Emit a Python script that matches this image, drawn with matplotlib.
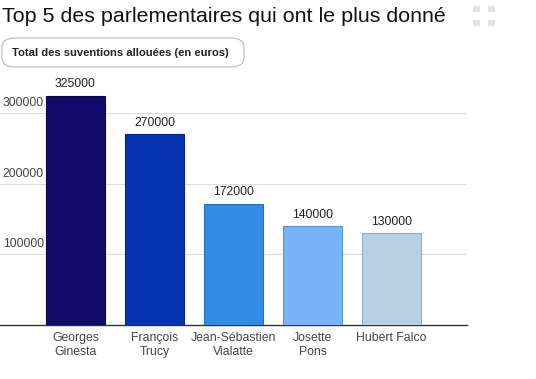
import matplotlib.pyplot as plt
from matplotlib.patches import FancyBboxPatch, Rectangle

# Données
noms = ["Georges\nGinesta", "François\nTrucy", "Jean-Sébastien\nVialatte", "Josette\nPons", "Hubert Falco"]
montants = [325000, 270000, 172000, 140000, 130000]
couleurs = ["#130b6c", "#0634b2", "#318ce6", "#78b3f8", "#bad0e0"]
bords = ["#0c0750", "#04278a", "#2470bb", "#5a93d0", "#93aebf"]
graduations = [100000, 200000, 300000]

plt.rcParams["font.family"] = ["Liberation Sans", "DejaVu Sans"]

W, H = 536, 379
fig = plt.figure(figsize=(W / 100, H / 100), dpi=100)
fig.patch.set_facecolor("white")

ax = fig.add_axes([0 / W, (H - 325) / H, 467 / W, (325 - 78) / H])
x = range(len(noms))
ax.bar(x, montants, width=0.75, color=couleurs, edgecolor=bords, linewidth=0.8, zorder=3)
ax.set_xlim(-0.956, 4.956)
ax.set_ylim(0, 350000)

# Grille et graduations
for g in graduations:
    ax.axhline(g, color="#dcdcdc", linewidth=0.8, zorder=1)
    ax.annotate(f"{g}", xy=(0, g), xycoords=("axes fraction", "data"),
                xytext=(2, 3), textcoords="offset points",
                ha="left", va="bottom", fontsize=8.8, color="#444444")
ax.set_yticks([])
ax.set_xticks(list(x))
ax.set_xticklabels(noms, fontsize=8.8, color="#444444", linespacing=1.2)
ax.tick_params(axis="x", length=0, pad=5)
for s in ["top", "right", "left"]:
    ax.spines[s].set_visible(False)
ax.spines["bottom"].set_color("#333333")
ax.spines["bottom"].set_linewidth(1)

# Valeurs au-dessus des barres
for xi, v in zip(x, montants):
    ax.annotate(f"{v}", xy=(xi, v), xytext=(0, 4), textcoords="offset points",
                ha="center", va="bottom", fontsize=8.8, color="#222222")

# Titre
fig.text(2 / W, 1 - 16 / H, "Top 5 des parlementaires qui ont le plus donné",
         fontsize=15.4, color="#111111", ha="left", va="center")

# Légende (boîte arrondie)
fig.patches.append(FancyBboxPatch((2 / W, 1 - 67 / H), 242 / W, 29 / H,
                                  boxstyle="round,pad=0,rounding_size=0.025",
                                  transform=fig.transFigure, facecolor="white",
                                  edgecolor="#bbbbbb", linewidth=0.8))
fig.text(12 / W, 1 - 52.5 / H, "Total des suventions allouées (en euros)",
         fontsize=8.1, fontweight="bold", color="#222222", ha="left", va="center")

# Icône plein écran
for (px, py) in [(473, 6), (488, 6), (473, 20), (488, 20)]:
    fig.patches.append(Rectangle((px / W, 1 - (py + 6) / H), 7 / W, 6 / H,
                                 transform=fig.transFigure, facecolor="#e4e4e4",
                                 edgecolor="none"))

plt.savefig("out.png", dpi=100)
